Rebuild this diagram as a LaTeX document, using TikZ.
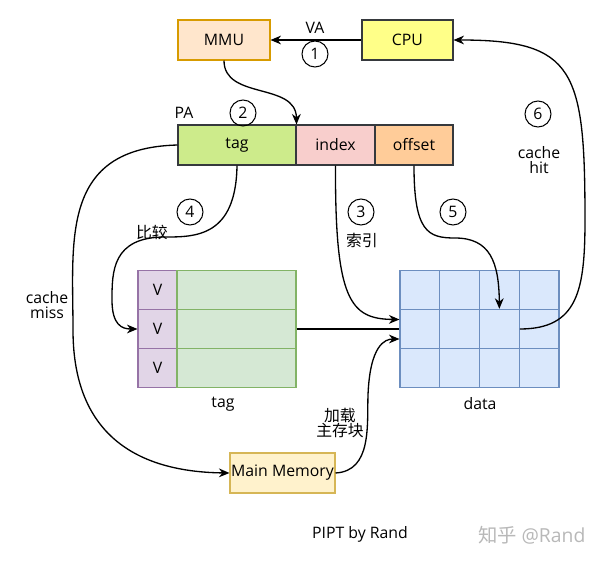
\documentclass[tikz,border=0pt]{standalone}
\usepackage{fontspec}
\setmainfont{Open Sans}
\newfontfamily\cjk{Noto Sans CJK SC}
\usetikzlibrary{arrows.meta}
\definecolor{mmuF}{HTML}{FFE6CC}\definecolor{mmuD}{HTML}{D79B00}
\definecolor{cpuF}{HTML}{FFFF88}\definecolor{dark}{HTML}{36393D}
\definecolor{tagF}{HTML}{CDEB8B}\definecolor{idxF}{HTML}{F8CECC}\definecolor{offF}{HTML}{FFCC99}
\definecolor{vF}{HTML}{E1D5E7}\definecolor{vD}{HTML}{9673A6}
\definecolor{gF}{HTML}{D5E8D4}\definecolor{gD}{HTML}{82B366}
\definecolor{dF}{HTML}{DAE8FC}\definecolor{dD}{HTML}{6C8EBF}
\definecolor{mmF}{HTML}{FFF2CC}\definecolor{mmD}{HTML}{D6B656}
\begin{document}
\begin{tikzpicture}[x=0.02cm,y=-0.02cm,font=\fontsize{9}{11}\selectfont,
  box/.style={draw,line width=0.6pt,inner sep=0pt,minimum height=0.8cm},
  vcell/.style={draw=vD,fill=vF,line width=0.6pt,inner sep=0pt,minimum width=0.78cm,minimum height=0.787cm},
  tcell/.style={draw=gD,fill=gF,line width=0.6pt,inner sep=0pt,minimum width=2.38cm,minimum height=0.787cm},
  dcell/.style={draw=dD,fill=dF,line width=0.6pt,inner sep=0pt,minimum width=0.795cm,minimum height=0.787cm},
  num/.style={circle,draw,line width=0.6pt,minimum size=0.52cm,inner sep=0pt},
  conn/.style={draw,line width=0.75pt},
  arr/.style={conn,-{Stealth[length=6pt,width=5pt]}},
  lbl/.style={inner sep=1pt,align=center}]
\useasboundingbox (0,0) rectangle (600,561);
% top boxes
\node[box,fill=mmuF,draw=mmuD,minimum width=1.84cm] (mmu) at (224,40) {MMU};
\node[box,fill=cpuF,draw=dark,minimum width=1.82cm] (cpu) at (407.5,40) {CPU};
% PA fields
\node[box,fill=tagF,draw=dark,minimum width=2.36cm] (ftag) at (237,145) {tag};
\node[box,fill=idxF,draw=dark,minimum width=1.58cm] (fidx) at (335.5,145) {index};
\node[box,fill=offF,draw=dark,minimum width=1.56cm] (foff) at (414,145) {offset};
% tag array
\node[vcell] (v1) at (157.5,289.7) {V};
\node[vcell] (v2) at (157.5,329) {V};
\node[vcell] (v3) at (157.5,368.3) {V};
\node[tcell] (t1) at (236.5,289.7) {};
\node[tcell] (t2) at (236.5,329) {};
\node[tcell] (t3) at (236.5,368.3) {};
% data array
\foreach \r/\yy in {1/289.7,2/329,3/368.3}{
  \foreach \c in {1,2,3,4}{
    \node[dcell] (d\r\c) at ({400+39.75*(\c-0.5)},\yy) {};
  }
}
% main memory
\node[box,fill=mmF,draw=mmD,minimum width=2.1cm] (mm) at (282.5,473) {Main Memory};
% labels
\node[lbl] (lva) at (315,28) {VA};
\node[lbl] (lpa) at (184,113) {PA};
\node[lbl] (ltag) at (223,404) {tag};
\node[lbl] (ldata) at (480,404) {data};
\node[lbl] (lcmp) at (152,232) {\cjk 比较};
\node[lbl] (lidx) at (362,240) {\cjk 索引};
\node[lbl] (lhit) at (539,160) {cache\\[-2pt]hit};
\node[lbl] (lmiss) at (47,305) {cache\\[-2pt]miss};
\node[lbl] (lload) at (340,423) {\cjk 加载\\[-2pt]\cjk 主存块};
\node[lbl] (ltitle) at (360,534) {PIPT by Rand};
\node[lbl,text=black!28,font=\fontsize{11}{13}\selectfont] (lwm) at (532,535) {\cjk 知乎 \rmfamily @Rand};
% numbers
\node[num] (n1) at (315,54) {1};
\node[num] (n2) at (243,113) {2};
\node[num] (n3) at (361,212) {3};
\node[num] (n4) at (190,212) {4};
\node[num] (n5) at (453,212) {5};
\node[num] (n6) at (538,114) {6};
% connectors
\draw[arr] (cpu.west) -- (mmu.east);
\draw[arr] (mmu.south) .. controls (224,100) and (296,82) .. (ftag.north east);
\draw[arr] (ftag.south) .. controls (236,237) and (195,237) .. (165,237)
   .. controls (112,237) and (112,272) .. (112,300)
   .. controls (112,325) and (122,329) .. (v2.west);
\draw[arr] (fidx.south) .. controls (335,300) and (350,319) .. ([yshift=0.19cm]d21.west);
\draw[arr] (foff.south) .. controls (414,232) and (428,238) .. (455,238)
   .. controls (490,238) and (499,262) .. (d23.north);
\draw[arr] (d23.east) .. controls (578,329) and (585,290) .. (585,220)
   .. controls (585,70) and (575,40) .. (cpu.east);
\draw[conn] (t2.east) -- (d21.west);
\draw[arr] (ftag.west) .. controls (60,148) and (73,240) .. (73,330)
   .. controls (73,445) and (150,472) .. (mm.west);
\draw[arr] (mm.east) .. controls (372,471) and (367,425) .. (368,395)
   .. controls (370,345) and (385,339) .. ([yshift=-0.2cm]d21.west);
\end{tikzpicture}
\end{document}
